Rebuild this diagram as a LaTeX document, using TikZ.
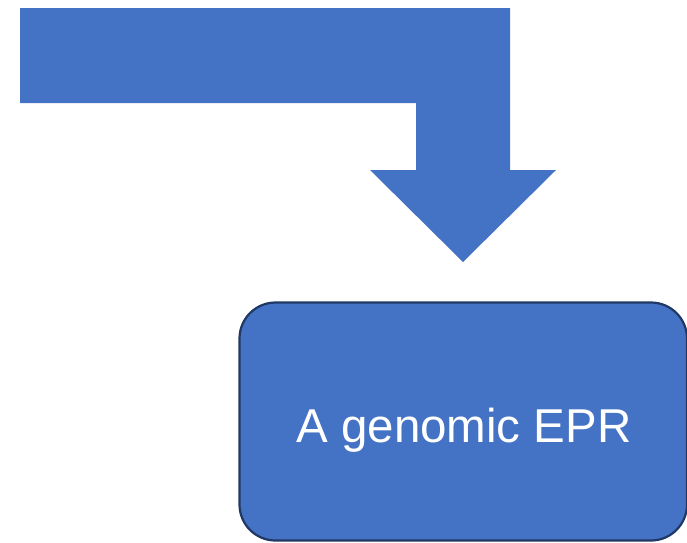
\documentclass[tikz,border=0pt]{standalone}
\usepackage{fontspec}
\setmainfont{Liberation Sans}
\definecolor{fillblue}{HTML}{4472C4}
\definecolor{edgenavy}{HTML}{1F3864}
\tikzset{
  bentarrow/.style={fill=fillblue, draw=none},
  roundbox/.style={fill=fillblue, draw=edgenavy, line width=2.2pt, rounded corners=36pt},
  boxtext/.style={text=white, font=\fontsize{47.5}{56}\selectfont, inner sep=0pt}
}
\begin{document}
\begin{tikzpicture}[x=1pt,y=-1pt]
\useasboundingbox (0,0) rectangle (687,542);
\begin{scope}
\clip (0,0) rectangle (687,542);
\fill[bentarrow] (20,8) -- (510,8) -- (510,170) -- (556,170) -- (463,262) -- (370,170) -- (416,170) -- (416,103) -- (20,103) -- cycle;
\draw[roundbox] (239.5,302.5) rectangle (687,540.5);
\end{scope}
\coordinate (boxbase) at (464,442);
\node[boxtext, anchor=base] (label) at (boxbase) {A genomic EPR};
\end{tikzpicture}
\end{document}
